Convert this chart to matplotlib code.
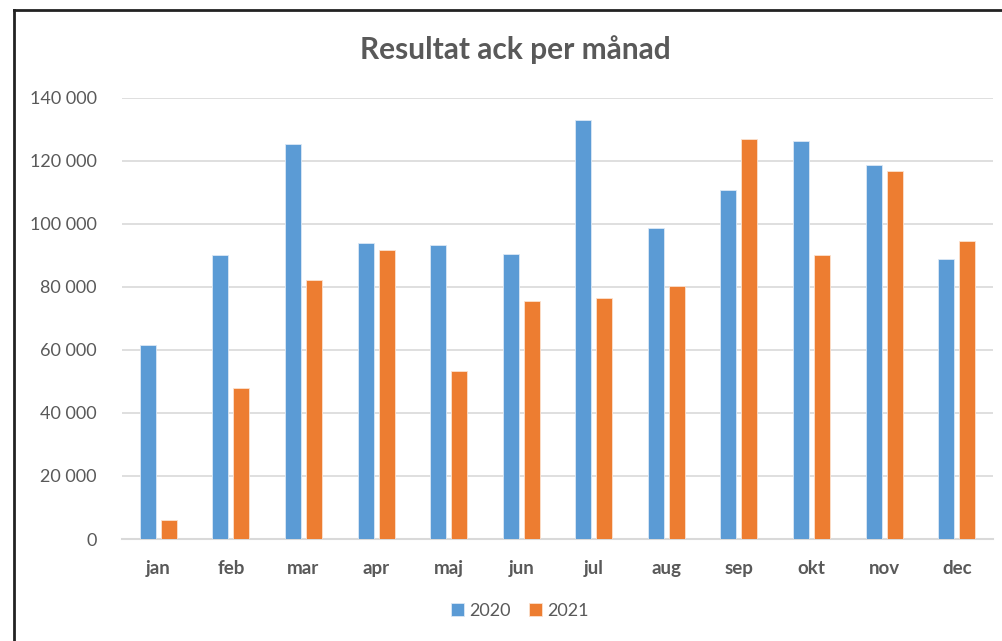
import matplotlib.pyplot as plt
import numpy as np
from matplotlib.ticker import FuncFormatter

months = ['jan', 'feb', 'mar', 'apr', 'maj', 'jun', 'jul', 'aug', 'sep', 'okt', 'nov', 'dec']
res_2020 = [61600, 90200, 125400, 94000, 93300, 90500, 133000, 98700, 110800, 126300, 118700, 88900]
res_2021 = [6000, 47900, 82200, 91700, 53300, 75600, 76500, 80300, 126700, 90200, 116800, 94600]
series_names = ['2020', '2021']

plt.rcParams['font.family'] = ['Lato', 'DejaVu Sans']
grey = '#595959'

fig = plt.figure(figsize=(10.02, 6.41), dpi=100)
ax = fig.add_axes([122 / 1002, 1 - 539 / 641, (993 - 122) / 1002, (539 - 97.5) / 641])

x = np.arange(len(months))
w = 0.22
ax.bar(x - 0.145, res_2020, w, color='#5B9BD5', edgecolor='#dbe8f5', linewidth=0.6,
       label=series_names[0], zorder=3)
ax.bar(x + 0.145, res_2021, w, color='#ED7D31', edgecolor='#fbe1cf', linewidth=0.6,
       label=series_names[1], zorder=3)

ax.set_xlim(-0.5, len(months) - 0.5)
ax.set_ylim(0, 140000)
ax.set_yticks(np.arange(0, 140001, 20000))
ax.yaxis.set_major_formatter(FuncFormatter(lambda v, p: f'{int(v):,}'.replace(',', ' ')))
ax.set_xticks(x)
ax.set_xticklabels(months, fontweight='bold', fontsize=13.5)
ax.tick_params(axis='both', length=0, colors=grey)
ax.tick_params(axis='y', labelsize=13, pad=18)
ax.tick_params(axis='x', pad=15)
ax.grid(axis='y', color='#d9d9d9', linewidth=1.2, zorder=0)
for s in ['top', 'right', 'left']:
    ax.spines[s].set_visible(False)
ax.spines['bottom'].set_color('#d9d9d9')
ax.spines['bottom'].set_linewidth(1.5)

fig.text(515 / 1002, 1 - 50 / 641, 'Resultat ack per månad', ha='center', va='center',
         fontsize=21.5, fontweight='bold', color=grey)

fig.legend(loc='center', bbox_to_anchor=(520 / 1002, 1 - 611 / 641), ncol=2,
           frameon=False, fontsize=13, labelcolor=grey, handlelength=0.7,
           handleheight=0.7, columnspacing=1.0, handletextpad=0.3)

# chart border (left and top visible)
fig.add_artist(plt.Line2D([14 / 1002, 14 / 1002], [0, 1 - 10 / 641], color='#222222', lw=2))
fig.add_artist(plt.Line2D([14 / 1002, 1], [1 - 10 / 641, 1 - 10 / 641], color='#222222', lw=2))

fig.savefig('out.png', dpi=100)
